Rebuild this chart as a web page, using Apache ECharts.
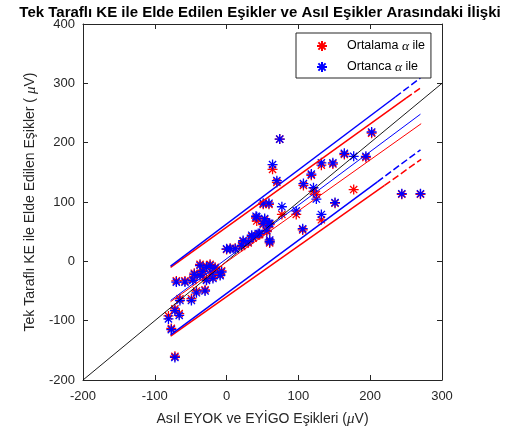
<!DOCTYPE html>
<html>
<head>
<meta charset="utf-8">
<script src="https://cdn.jsdelivr.net/npm/echarts@6/dist/echarts.min.js"></script>
<style>
  html, body { margin: 0; padding: 0; background: #fff; }
  #chart { width: 514px; height: 432px; }
</style>
</head>
<body>
<div id="chart"></div>
<script>
const ptX    = [-72, -77, -81, -66, -72, -65, -49, -42, -30, -70, -58, -47, -37, -28, -19, -9, -28, -16, -37, -23, -7, -33, -20, -45,
                5, 12, 0, 21, 23, 30, 37, 35, 44, 46, 60, 60, 56, 51, 60, 58, 42, 53, 41, 51, 59, 77, 97, 106,
                64, 70, 74, 107, 118, 121, 132, 148, 125, 132, 151, 164, 177, 194, 202, 244, 270];
const redY   = [-160, -113, -92, -88, -80, -63, -63, -50, -48, -33, -33, -30, -22, -30, -27, -22, -8, -10, -5, -5, -16, -15, -18, -20,
                22, 22, 20, 25, 33, 31, 39, 42, 45, 45, 31, 34, 50, 62, 62, 62, 68, 70, 73, 96, 96, 79, 79, 53,
                155, 133, 206, 128, 145, 118, 162, 164, 113, 70, 98, 180, 121, 175, 216, 113, 113];
const blueY  = [-162, -115, -97, -91, -83, -66, -66, -53, -50, -35, -35, -32, -24, -32, -29, -24, -10, -12, -7, -7, -18, -17, -20, -22,
                21, 21, 21, 27, 35, 33, 41, 44, 47, 47, 33, 36, 52, 64, 64, 64, 75, 72, 76, 98, 98, 92, 85, 55,
                163, 136, 206, 131, 147, 124, 166, 166, 105, 79, 99, 182, 177, 177, 218, 114, 114];

// fitted lines and their bands (start, where the stroke breaks up, end)
const blueUpX  = [-78, 235, 270];  const blueUpY  = [-8, 277, 309];
const blueMidX = [-78, 270];       const blueMidY = [-66, 248];
const blueLowX = [-78, 210, 270];  const blueLowY = [-124, 134, 188];
const redUpX   = [-78, 250, 271];  const redUpY   = [-10, 275, 293];
const redMidX  = [-78, 271];       const redMidY  = [-68, 232];
const redLowX  = [-78, 220, 271];  const redLowY  = [-126, 128, 172];
const refX = [-200, 300];          const refY = [-200, 300];

const xTicks = [-200, 300, 100];
const yTicks = [-200, 400, 100];

const font = 'Liberation Sans, Arial, sans-serif';
const ink = '#262626';
const star = 'path://M0,-5L0,5M-5,0L5,0M-3.6,-3.6L3.6,3.6M-3.6,3.6L3.6,-3.6';

const pairs = (xs, ys) => xs.map((v, i) => [v, ys[i]]);

// solid part + broken tail of a band line
const bandLine = (xs, ys, color, width) => {
    let out = [{
        type: 'line', data: pairs(xs.slice(0, 2), ys.slice(0, 2)),
        showSymbol: false, silent: true,
        lineStyle: {color, width}, z: 3
    }];
    if (xs.length > 2) {
        out.push({
            type: 'line', data: pairs(xs.slice(1), ys.slice(1)),
            showSymbol: false, silent: true,
            lineStyle: {color, width, type: [7, 3]}, z: 3
        });
    }
    return out;
};

const axisCommon = {
    axisLine: {onZero: false, lineStyle: {color: ink, width: 1}},
    axisTick: {inside: true, length: 5, lineStyle: {color: ink}},
    splitLine: {show: false}
};

let chart = echarts.init(document.getElementById('chart'), null, {renderer: 'canvas'});
chart.setOption({
    animation: false,
    backgroundColor: '#fff',
    title: {
        text: 'Tek Taraflı KE ile Elde Edilen Eşikler ve Asıl Eşikler Arasındaki İlişki',
        left: 255, top: 0, textAlign: 'center',
        textStyle: {fontFamily: font, fontSize: 15, fontWeight: 'bold', color: '#000'}
    },
    legend: {
        left: 296, top: 33,
        orient: 'vertical',
        padding: [6, 6, 4, 20],
        itemWidth: 10, itemHeight: 10, itemGap: 7,
        borderColor: ink, borderWidth: 1, backgroundColor: '#fff',
        data: ['Ortalama α ile', 'Ortanca α ile'],
        formatter: name => {
            let [a, b] = name.split('α');
            return `{s|}{t|${a}}{g|α}{t|${b}}`;
        },
        textStyle: {
            rich: {
                s: {width: 15},
                t: {fontFamily: font, fontSize: 12.5, color: '#000'},
                g: {fontFamily: 'Liberation Serif, serif', fontStyle: 'italic', fontSize: 13.5, color: '#000'}
            }
        }
    },
    grid: {left: 83, top: 24, right: 72, bottom: 52},
    xAxis: [
        Object.assign({
            type: 'value', min: xTicks[0], max: xTicks[1], interval: xTicks[2],
            name: '{t|Asıl EYOK ve EYİGO Eşikleri (}{g|μ}{t|V)}',
            nameLocation: 'middle', nameGap: 32,
            nameTextStyle: {
                rich: {
                    t: {fontFamily: font, fontSize: 14, color: ink},
                    g: {fontFamily: 'Liberation Serif, serif', fontStyle: 'italic', fontSize: 15, color: ink}
                }
            },
            axisLabel: {fontFamily: font, fontSize: 13, color: ink, margin: 10}
        }, axisCommon),
        Object.assign({
            type: 'value', position: 'top', min: xTicks[0], max: xTicks[1], interval: xTicks[2],
            axisLabel: {show: false}
        }, axisCommon)
    ],
    yAxis: [
        Object.assign({
            type: 'value', min: yTicks[0], max: yTicks[1], interval: yTicks[2],
            name: '{t|Tek Taraflı KE ile Elde Edilen Eşikler ( }{g|μ}{t|V)}',
            nameLocation: 'middle', nameGap: 40, nameRotate: 90,
            nameTextStyle: {
                rich: {
                    t: {fontFamily: font, fontSize: 14, color: ink},
                    g: {fontFamily: 'Liberation Serif, serif', fontStyle: 'italic', fontSize: 15, color: ink}
                }
            },
            axisLabel: {fontFamily: font, fontSize: 13, color: ink, margin: 8}
        }, axisCommon),
        Object.assign({
            type: 'value', position: 'right', min: yTicks[0], max: yTicks[1], interval: yTicks[2],
            axisLabel: {show: false}
        }, axisCommon)
    ],
    series: [
        {
            name: 'Ortalama α ile', type: 'scatter',
            data: pairs(ptX, redY),
            symbol: star, symbolSize: 10,
            itemStyle: {color: '#ff0000', borderColor: '#ff0000', borderWidth: 1.3, opacity: 1},
            z: 2
        },
        {
            name: 'Ortanca α ile', type: 'scatter',
            data: pairs(ptX, blueY),
            symbol: star, symbolSize: 10,
            itemStyle: {color: '#0000ff', borderColor: '#0000ff', borderWidth: 1.3, opacity: 1},
            z: 2
        },
        {
            type: 'line', data: pairs(refX, refY), showSymbol: false, silent: true,
            lineStyle: {color: '#000', width: 0.9}, z: 3
        },
        ...bandLine(redUpX, redUpY, '#ff0000', 1.5),
        ...bandLine(redMidX, redMidY, '#ff0000', 1),
        ...bandLine(redLowX, redLowY, '#ff0000', 1.5),
        ...bandLine(blueUpX, blueUpY, '#0000ff', 1.5),
        ...bandLine(blueMidX, blueMidY, '#0000ff', 1),
        ...bandLine(blueLowX, blueLowY, '#0000ff', 1.5)
    ]
});
</script>
</body>
</html>
